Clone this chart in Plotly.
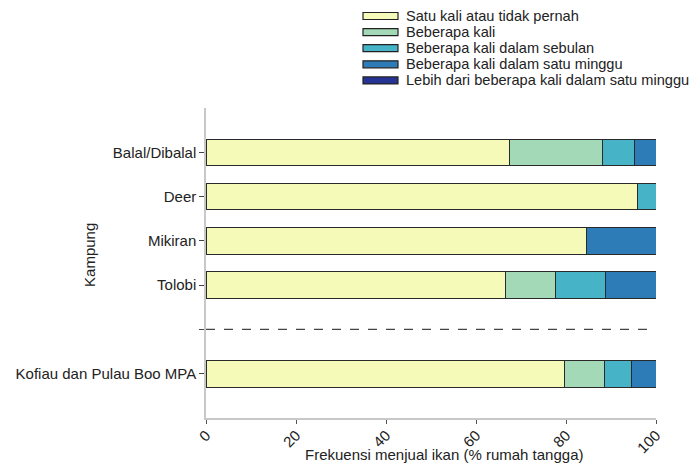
import plotly.graph_objects as go

categories = ["Balal/Dibalal", "Deer", "Mikiran", "Tolobi", "Kofiau dan Pulau Boo MPA"]
series_names = [
    "Satu kali atau tidak pernah",
    "Beberapa kali",
    "Beberapa kali dalam sebulan",
    "Beberapa kali dalam satu minggu",
    "Lebih dari beberapa kali dalam satu minggu",
]
satu_kali = [67.5, 95.9, 84.6, 66.5, 79.6]
beberapa_kali = [20.7, 0.0, 0.0, 11.2, 9.0]
sebulan = [7.1, 4.1, 0.0, 11.0, 6.0]
seminggu = [4.7, 0.0, 15.4, 11.3, 5.4]
lebih = [0.0, 0.0, 0.0, 0.0, 0.0]
colors = ["#f6fab9", "#a3d9b6", "#46b4c6", "#2e7cb7", "#253494"]
x_ticks = [0, 20, 40, 60, 80, 100]

order = ["Kofiau dan Pulau Boo MPA", " ", "Tolobi", "Mikiran", "Deer", "Balal/Dibalal"]

fig = go.Figure()
for name, vals, col in zip(series_names, [satu_kali, beberapa_kali, sebulan, seminggu, lebih], colors):
    fig.add_trace(go.Bar(
        y=categories, x=vals, name=name, orientation="h",
        marker=dict(color=col, line=dict(color="#2a2a2a", width=1)),
        width=0.6, showlegend=False,
    ))

fig.add_shape(type="line", xref="x", yref="y", x0=0, x1=100, y0=1, y1=1,
              line=dict(color="#444", width=1.2, dash="dash"))

# plot area geometry (figure px): top margin 100, height 310, width 450, left margin 198
PH, PW, TOP, LEFT = 310.0, 450.0, 100.0, 198.0
annotations = []
for i, (name, col) in enumerate(zip(series_names, colors)):
    yc = 8.0 + 16.1 * i  # legend row centre, px from figure top
    ypaper = 1 + (TOP - yc) / PH
    fig.add_shape(type="rect", xref="paper", yref="paper",
                  x0=(355 - LEFT) / PW, x1=(390 - LEFT) / PW,
                  y0=ypaper - 3.5 / PH, y1=ypaper + 3.5 / PH,
                  fillcolor=col, line=dict(color="#222", width=1.2))
    annotations.append(dict(text=name, xref="paper", yref="paper",
                            x=(396 - LEFT) / PW, y=ypaper, xanchor="left", yanchor="middle",
                            showarrow=False, font=dict(size=14.6, color="#222")))

annotations += [
    dict(text="Frekuensi menjual ikan (% rumah tangga)", xref="paper", yref="paper",
         x=0.529, y=-(446 - TOP - PH) / PH, xanchor="center", yanchor="middle",
         showarrow=False, font=dict(size=15)),
    dict(text="Kampung", xref="paper", yref="paper", x=-(LEFT - 82) / PW, y=0.526,
         textangle=-90, showarrow=False, xanchor="center", yanchor="middle",
         font=dict(size=15)),
]

fig.update_layout(
    width=690, height=456,
    barmode="stack",
    plot_bgcolor="white", paper_bgcolor="white",
    font=dict(family="Liberation Sans, Arial, sans-serif", size=15, color="#222"),
    margin=dict(l=198, r=42, t=100, b=46, autoexpand=False),
    showlegend=False,
    xaxis=dict(range=[0, 100], tickvals=x_ticks, ticks="outside", ticklen=4,
               tickcolor="#555", showline=True, linecolor="#c8c8c8", linewidth=1.5,
               showgrid=False, zeroline=False, tickangle=-45, tickfont=dict(size=15),
               ticklabelstandoff=-3),
    yaxis=dict(type="category", categoryorder="array", categoryarray=order,
               range=[-1, 6], ticks="outside", ticklen=5, tickcolor="#444",
               showline=True, linecolor="#c8c8c8", linewidth=1.5, showgrid=False,
               tickfont=dict(size=15)),
    annotations=annotations,
)

fig.write_html("out.html")
